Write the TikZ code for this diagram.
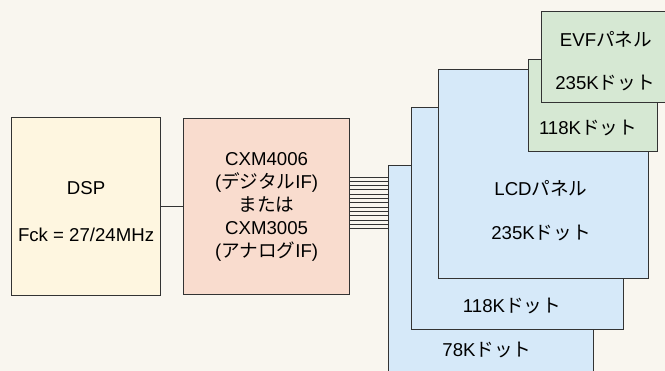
\documentclass[tikz,border=0pt]{standalone}
\usepackage{fontspec}
\setmainfont{Liberation Sans}
\newfontfamily\jp{Noto Sans CJK JP}
\usetikzlibrary{positioning, calc}
\definecolor{latar}{RGB}{249, 246, 239}
\definecolor{krem}{RGB}{254, 246, 224}
\definecolor{persik}{RGB}{249, 220, 206}
\definecolor{biru}{RGB}{214, 233, 249}
\definecolor{hijau}{RGB}{214, 232, 211}
\definecolor{garis}{RGB}{51, 51, 51}

\begin{document}
\begin{tikzpicture}[
    x=0.03cm, y=-0.03cm,
    font=\fontsize{15.9}{19.6}\selectfont,
    kotak/.style={draw=garis, line width=1pt, anchor=north west,
                  inner sep=0pt, align=center},
    teks/.style={inner sep=0pt, anchor=center, align=center},
    bus/.style={garis, line width=0.85pt}
  ]
    \fill[latar] (0,0) rectangle (665,371);
    \useasboundingbox (0,0) rectangle (665,371);
    \clip (0,0) rectangle (665,371);
    % blok kiri
    \node[kotak, fill=krem, minimum width=149*0.03cm, minimum height=178*0.03cm]
      (dsp) at (11,117) {};
    \node[teks] (tdsp) at ($(dsp.center)+(0,5)$) {DSP\\[20pt]Fck = 27/24MHz};
    \node[kotak, fill=persik, minimum width=166*0.03cm, minimum height=176*0.03cm]
      (cxm) at (183,118)
      {CXM4006\\({\jp デジタル}IF)\\{\jp または}\\CXM3005\\({\jp アナログ}IF)};
    \draw[bus, line width=1pt] (dsp) -- (cxm);
    % panel LCD (belakang ke depan)
    \node[kotak, fill=biru, minimum width=205*0.03cm, minimum height=220*0.03cm]
      (lcdC) at (388,165) {};
    \node[kotak, fill=biru, minimum width=212*0.03cm, minimum height=222*0.03cm]
      (lcdB) at (411,107) {};
    \node[kotak, fill=biru, minimum width=210*0.03cm, minimum height=209*0.03cm]
      (lcdA) at (438,69) {};
    \node[teks] (t78) at (487,350) {78K{\jp ドット}};
    \node[teks] (t118) at (512,306) {118K{\jp ドット}};
    \node[teks] (tlcd) at (541,188) {LCD{\jp パネル}};
    \node[teks] (t235) at (541,233) {235K{\jp ドット}};
    % panel EVF
    \node[kotak, fill=hijau, minimum width=129*0.03cm, minimum height=92*0.03cm]
      (evfB) at (528,59) {};
    \node[kotak, fill=hijau, minimum width=130*0.03cm, minimum height=91*0.03cm]
      (evfA) at (541,11) {};
    \node[teks] (e118) at (588,128) {118K{\jp ドット}};
    \node[teks] (tevf) at (606,39) {EVF{\jp パネル}};
    \node[teks] (e235) at (605,83) {235K{\jp ドット}};
    % bus data
    \foreach \i in {0,...,12}
      \draw[bus] (cxm.east |- 0,177+\i*4.33) -- (lcdC.west |- 0,177+\i*4.33);
\end{tikzpicture}
\end{document}
